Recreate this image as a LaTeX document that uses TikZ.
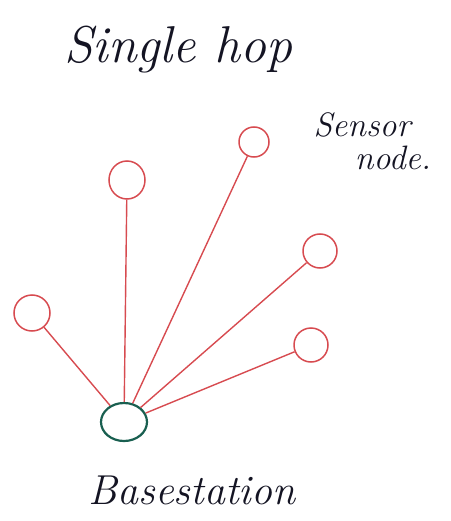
\documentclass[tikz,border=0pt]{standalone}
\usetikzlibrary{shapes.geometric}
\definecolor{pen}{RGB}{215,75,80}
\definecolor{basepen}{RGB}{25,95,80}
\definecolor{ink}{RGB}{20,20,35}
\begin{document}
\begin{tikzpicture}[x=1bp,y=-1bp,
  sensor/.style={draw=pen,line width=1.5bp,ellipse,inner sep=0pt},
  basest/.style={draw=basepen,line width=2.2bp,ellipse,inner sep=0pt,minimum width=46bp,minimum height=38bp},
  link/.style={draw=pen,line width=1.4bp},
  hand/.style={text=ink,font=\itshape}]
\useasboundingbox (0,0) rectangle (451,521);
\node[hand,font=\fontsize{52}{56}\selectfont\itshape] (title) at (178,50) {Single hop};
\node[hand,font=\fontsize{34}{38}\selectfont\itshape] (lbl1) at (362,125) {Sensor};
\node[hand,font=\fontsize{34}{38}\selectfont\itshape] (lbl2) at (393,158) {node.};
\node[basest] (bs) at (124,422) {};
\node[sensor,minimum width=36bp,minimum height=38bp] (s1) at (127,180) {};
\node[sensor,minimum width=30bp,minimum height=30bp] (s2) at (254,142) {};
\node[sensor,minimum width=34bp,minimum height=34bp] (s3) at (320,251) {};
\node[sensor,minimum width=36bp,minimum height=36bp] (s4) at (32,313) {};
\node[sensor,minimum width=34bp,minimum height=34bp] (s5) at (311,345) {};
\draw[link] (s1) -- (bs);
\draw[link] (s2) -- (bs);
\draw[link] (s3) -- (bs);
\draw[link] (s4) -- (bs);
\draw[link] (s5) -- (bs);
\node[hand,font=\fontsize{42}{46}\selectfont\itshape] (bl) at (192,490) {Basestation};
\end{tikzpicture}
\end{document}
